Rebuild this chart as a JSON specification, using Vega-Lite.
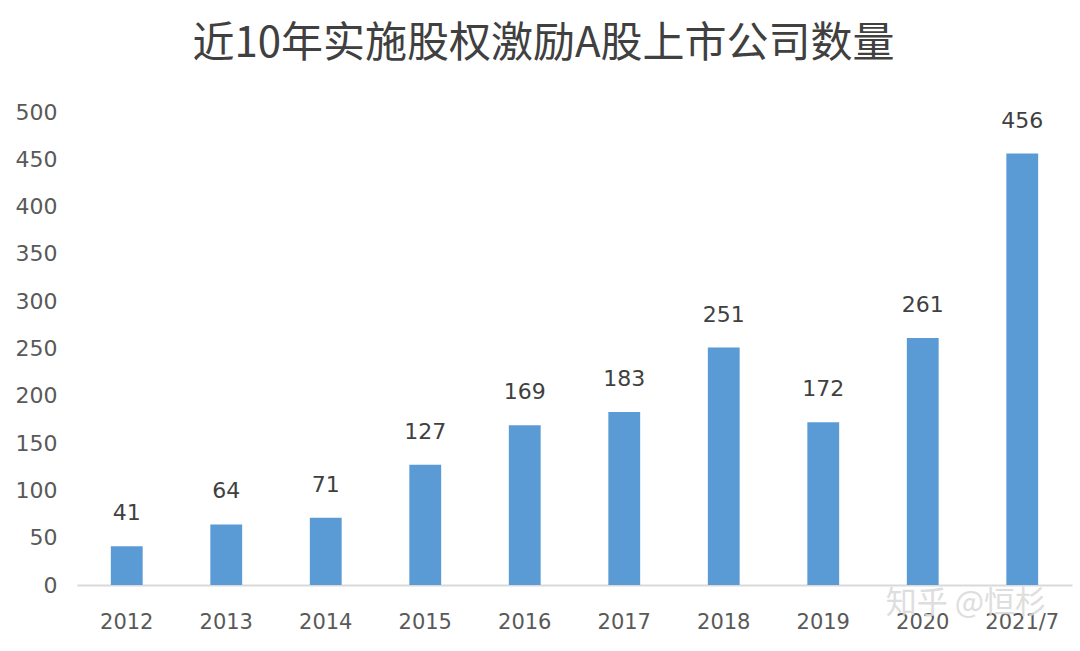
{
  "$schema": "https://vega.github.io/schema/vega-lite/v6.json",
  "autosize": {"type": "none"},
  "width": 995,
  "height": 473,
  "padding": {"left": 77, "top": 112, "right": 8, "bottom": 66},
  "background": "white",
  "title": {
    "text": "近10年实施股权激励A股上市公司数量",
    "font": "Noto Sans CJK SC",
    "fontSize": 42,
    "fontWeight": "normal",
    "color": "#404040",
    "anchor": "middle",
    "frame": "bounds",
    "offset": 35
  },
  "config": {"view": {"stroke": null}},
  "layer": [
    {
      "data": {
        "values": [
          {"year": "2012", "count": 41},
          {"year": "2013", "count": 64},
          {"year": "2014", "count": 71},
          {"year": "2015", "count": 127},
          {"year": "2016", "count": 169},
          {"year": "2017", "count": 183},
          {"year": "2018", "count": 251},
          {"year": "2019", "count": 172},
          {"year": "2020", "count": 261},
          {"year": "2021/7", "count": 456}
        ]
      },
      "encoding": {
        "x": {
          "field": "year",
          "type": "nominal",
          "sort": null,
          "scale": {"paddingInner": 0.68, "paddingOuter": 0.34},
          "axis": {
            "title": null,
            "labelAngle": 0,
            "labelFont": "DejaVu Sans",
            "labelFontSize": 21,
            "labelColor": "#595959",
            "labelPadding": 26,
            "ticks": false,
            "domainColor": "#d9d9d9",
            "domainWidth": 2
          }
        },
        "y": {
          "field": "count",
          "type": "quantitative",
          "scale": {"domain": [0, 500], "nice": false},
          "axis": {
            "title": null,
            "values": [0, 50, 100, 150, 200, 250, 300, 350, 400, 450, 500],
            "grid": false,
            "domain": false,
            "ticks": false,
            "labelFont": "DejaVu Sans",
            "labelFontSize": 22,
            "labelColor": "#595959",
            "labelPadding": 20
          }
        }
      },
      "layer": [
        {"mark": {"type": "bar", "color": "#5b9bd5"}},
        {
          "mark": {
            "type": "text",
            "baseline": "bottom",
            "dy": -21,
            "font": "DejaVu Sans",
            "fontSize": 22,
            "color": "#404040"
          },
          "encoding": {"text": {"field": "count", "type": "quantitative"}}
        }
      ]
    },
    {
      "data": {"values": [{"year": "2020", "pos": -20, "label": "知乎 @恒杉"}]},
      "mark": {
        "type": "text",
        "align": "left",
        "baseline": "middle",
        "dx": -37,
        "font": "Noto Sans CJK SC",
        "fontSize": 31,
        "color": "#d9d9d9",
        "opacity": 0.85,
        "clip": false
      },
      "encoding": {
        "x": {"field": "year", "type": "nominal"},
        "y": {"field": "pos", "type": "quantitative"},
        "text": {"field": "label"}
      }
    }
  ]
}
